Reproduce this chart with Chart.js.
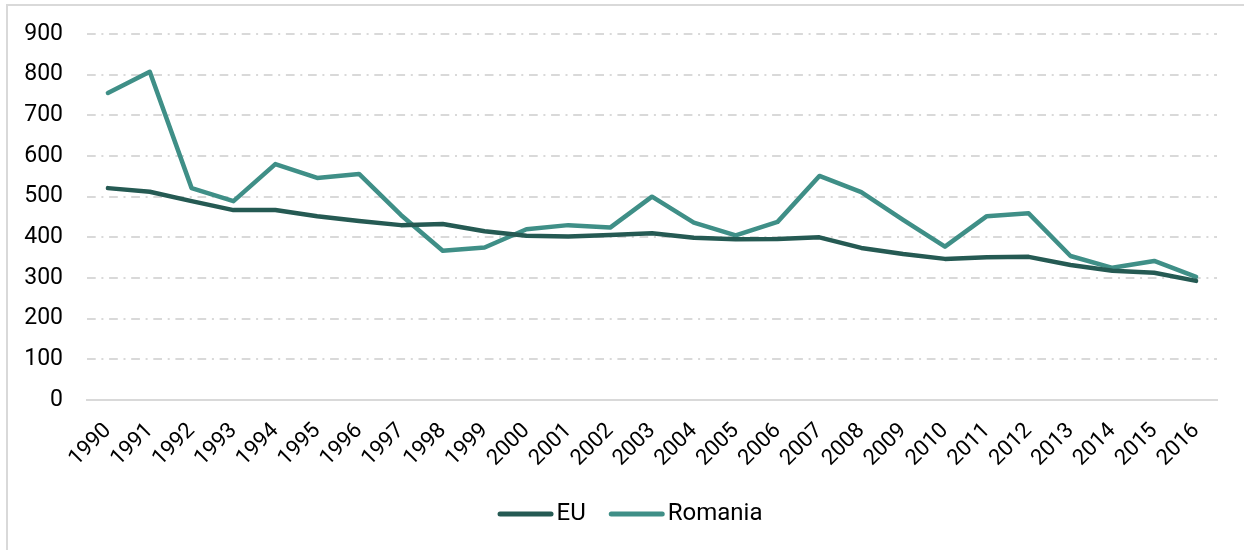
<!DOCTYPE html>
<html>
<head>
<meta charset="utf-8">
<script src="https://cdn.jsdelivr.net/npm/chart.js@4"></script>
<style>
html,body{margin:0;padding:0;background:#fff;width:1244px;height:550px;overflow:hidden;}
#frame{position:absolute;left:6px;top:4px;width:1300px;height:600px;border-left:2px solid #d9d9d9;border-top:2px solid #d9d9d9;}
#wrap{position:absolute;left:0;top:0;width:1244px;height:550px;}
</style>
</head>
<body>
<div id="frame"></div>
<div id="wrap"><canvas id="c" width="1244" height="550"></canvas></div>
<script>
const years = ['1990','1991','1992','1993','1994','1995','1996','1997','1998','1999','2000','2001','2002','2003','2004','2005','2006','2007','2008','2009','2010','2011','2012','2013','2014','2015','2016'];
const euValues = [521,512,489,467,467,452,440,430,433,415,404,402,406,410,399,395,396,400,374,359,347,351,352,332,318,313,293];
const romaniaValues = [755,807,521,489,580,546,556,455,367,375,420,430,424,500,436,405,438,551,511,443,377,452,459,354,325,342,303];
const yTicks = [0,100,200,300,400,500,600,700,800,900];

const FONT = 'Roboto, "Liberation Sans", sans-serif';
Chart.defaults.font.family = FONT;

// Legend drawn below the axis, with a short gap between line sample and text
const lineLegend = {
  id:'lineLegend',
  afterDraw(chart){
    const ctx = chart.ctx;
    const cx = 630, cy = 514, sample = 56, gapText = 3, gapItem = 23;
    ctx.save();
    ctx.font = '24px ' + FONT;
    const items = chart.data.datasets.map(d=>({text:d.label,color:d.borderColor,w:ctx.measureText(d.label).width}));
    let total = 0;
    items.forEach((it,i)=>{ total += sample + gapText + it.w + (i ? gapItem : 0); });
    let x = cx - total/2;
    items.forEach(it=>{
      ctx.strokeStyle = it.color;
      ctx.lineWidth = 5;
      ctx.lineCap = 'round';
      ctx.beginPath();
      ctx.moveTo(x + 2.5, cy);
      ctx.lineTo(x + sample - 2.5, cy);
      ctx.stroke();
      ctx.fillStyle = '#000';
      ctx.textBaseline = 'middle';
      ctx.textAlign = 'left';
      ctx.fillText(it.text, x + sample + gapText, cy);
      x += sample + gapText + it.w + gapItem;
    });
    ctx.restore();
  }
};

new Chart(document.getElementById('c'), {
  type: 'line',
  data: {
    labels: years,
    datasets: [
      {label:'EU', data: euValues, borderColor:'#255a53', backgroundColor:'#255a53', borderWidth:4.5, pointRadius:0, tension:0, borderJoinStyle:'round', borderCapStyle:'round'},
      {label:'Romania', data: romaniaValues, borderColor:'#3f8f87', backgroundColor:'#3f8f87', borderWidth:4.5, pointRadius:0, tension:0, borderJoinStyle:'round', borderCapStyle:'round'}
    ]
  },
  plugins:[lineLegend],
  options: {
    responsive:false,
    animation:false,
    devicePixelRatio:1,
    layout:{padding:{top:34,right:27,bottom:55,left:0}},
    plugins:{
      tooltip:{enabled:false},
      legend:{display:false}
    },
    scales:{
      x:{
        offset:true,
        grid:{display:false, drawTicks:false},
        border:{display:true,color:'#d9d9d9',width:2},
        ticks:{color:'#000',font:{size:22},minRotation:45,maxRotation:45,padding:18,autoSkip:false},
        afterFit(s){ s.height = 95; }
      },
      y:{
        min:0,max:900,
        afterBuildTicks(s){ s.ticks = yTicks.map(v=>({value:v})); },
        grid:{color:'#d9d9d9',lineWidth:2,drawTicks:false},
        border:{display:false,dash:[8.7,5.7,2,5.7]},
        ticks:{color:'#000',font:{size:23},padding:24},
        afterFit(s){ s.width = 87; s.paddingTop = 0; s.paddingBottom = 0; }
      }
    }
  }
});
</script>
</body>
</html>
